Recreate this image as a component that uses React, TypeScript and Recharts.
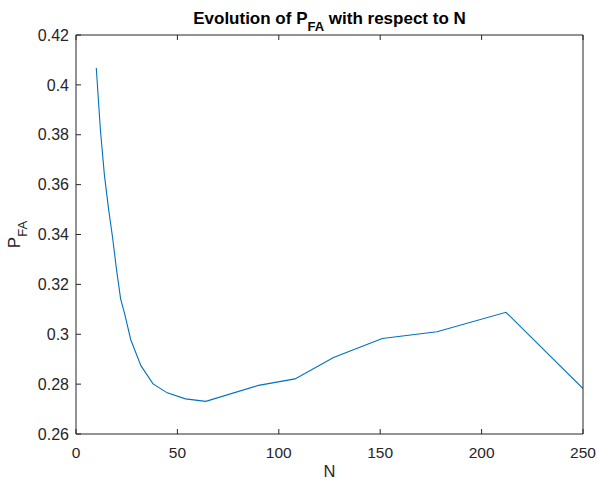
import React from 'react';
import { LineChart, Line, XAxis, YAxis, Label } from 'recharts';

const nValues = [10, 12, 14, 16, 18, 20, 22, 24, 27, 32, 38, 45, 54, 64, 90, 108, 127, 151, 178, 212, 250];
const pfaValues = [0.4068, 0.3823, 0.3639, 0.3506, 0.339, 0.3258, 0.3142, 0.3082, 0.2978, 0.2874, 0.2801, 0.2765, 0.2741, 0.2731, 0.2795, 0.2821, 0.2907, 0.2983, 0.301, 0.3088, 0.2782];
const xTicks = [0, 50, 100, 150, 200, 250];
const yTicks = [0.26, 0.28, 0.3, 0.32, 0.34, 0.36, 0.38, 0.4, 0.42];

const data = nValues.map((n, i) => ({ n, pfa: pfaValues[i] }));

const AXIS = '#262626';
const FONT = 'Liberation Sans, Arial, Helvetica, sans-serif';

const fmtY = (v: number) => String(Math.round(v * 100) / 100);

const TitleContent = (props: any) => {
  const vb = props.viewBox || { x: 76, y: 35, width: 507 };
  const cx = vb.x + vb.width / 2;
  const y = vb.y - 10;
  return (
    <text x={cx} y={y} textAnchor="middle" fontFamily={FONT} fontWeight="bold" fontSize={17} fill="#000">
      <tspan>Evolution of P</tspan>
      <tspan fontSize={13} dy={7}>FA</tspan>
      <tspan dy={-7}> with respect to N</tspan>
    </text>
  );
};

const YLabelContent = (props: any) => {
  const vb = props.viewBox || { x: 16, y: 35, width: 60, height: 399 };
  const x = vb.x + 4;
  const cy = vb.y + vb.height / 2;
  return (
    <text x={x} y={cy} transform={`rotate(-90, ${x}, ${cy})`} textAnchor="middle" fontFamily={FONT} fontSize={17} fill={AXIS}>
      <tspan>P</tspan>
      <tspan fontSize={13} dy={7}>FA</tspan>
    </text>
  );
};

export default function App() {
  return (
    <div style={{ position: 'absolute', left: 0, top: 0, width: 597, height: 479, background: '#fff' }}>
      <LineChart width={597} height={479} data={data} margin={{ top: 34, right: 13, bottom: 15, left: 16 }}>
        <XAxis
          xAxisId="b"
          dataKey="n"
          type="number"
          domain={[0, 250]}
          ticks={xTicks}
          height={30}
          stroke={AXIS}
          tickSize={-5}
          tickMargin={18}
          tick={{ fill: AXIS, fontSize: 15.5, fontFamily: FONT }}
          allowDataOverflow
        >
          <Label value="N" position="bottom" offset={1} fill={AXIS} fontSize={16.5} fontFamily={FONT} />
        </XAxis>
        <XAxis
          xAxisId="t"
          orientation="top"
          dataKey="n"
          type="number"
          domain={[0, 250]}
          ticks={xTicks}
          height={1}
          stroke={AXIS}
          tickSize={-5}
          tickFormatter={() => ''}
        >
          <Label content={TitleContent} />
        </XAxis>
        <YAxis
          yAxisId="l"
          type="number"
          domain={[0.26, 0.42]}
          ticks={yTicks}
          width={60}
          stroke={AXIS}
          tickSize={-5}
          tickMargin={12}
          tickFormatter={fmtY}
          tick={{ fill: AXIS, fontSize: 16, fontFamily: FONT }}
          allowDataOverflow
        >
          <Label content={YLabelContent} />
        </YAxis>
        <YAxis
          yAxisId="r"
          orientation="right"
          type="number"
          domain={[0.26, 0.42]}
          ticks={yTicks}
          width={1}
          stroke={AXIS}
          tickSize={-5}
          tickFormatter={() => ''}
        />
        <Line
          xAxisId="b"
          yAxisId="l"
          type="linear"
          dataKey="pfa"
          stroke="#0072BD"
          strokeWidth={1.1}
          dot={false}
          isAnimationActive={false}
        />
      </LineChart>
    </div>
  );
}
